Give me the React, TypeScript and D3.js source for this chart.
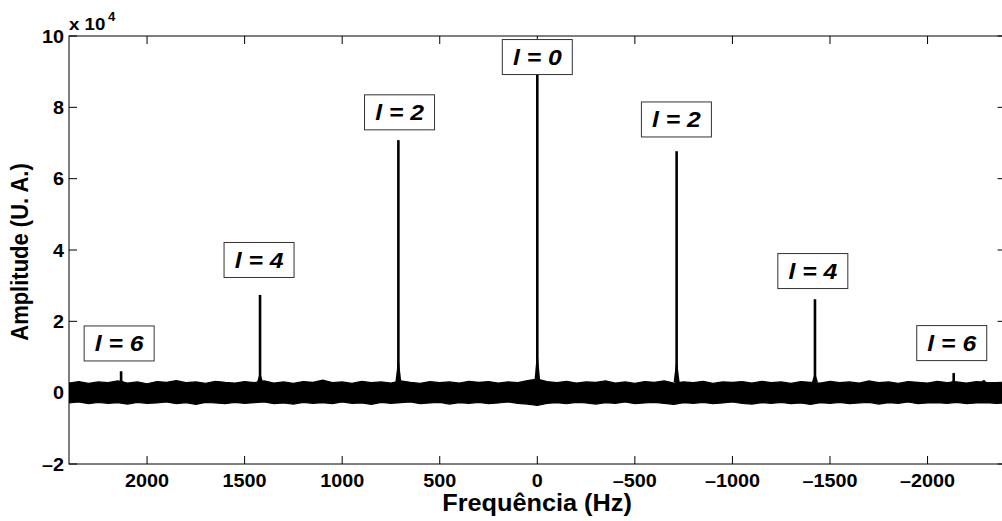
import React from "react";
import * as d3 from "d3";

// ---- data (amplitudes in units of 1e4) ----
const xTicks = [2000, 1500, 1000, 500, 0, -500, -1000, -1500, -2000];
const yTicks = [-2, 0, 2, 4, 6, 8, 10];

const peakFreq = [2133, 1421, 712, 0, -714, -1423, -2134, -2288];
const peakAmp = [0.6, 2.74, 7.08, 9.1, 6.77, 2.62, 0.55, 0.35];

const labelText = ["l = 6", "l = 4", "l = 2", "l = 0", "l = 2", "l = 4", "l = 6"];
const labelFreq = [2143, 1426, 706, 0, -713, -1412, -2124];
const labelAmp = [1.38, 3.72, 7.86, 9.41, 7.66, 3.41, 1.39];

// noise band envelope, sampled every 50 Hz from 2400 Hz to -2400 Hz (97 samples)
const noiseFreq = d3.range(2400, -2401, -50);
const noiseUpper = [
  0.27, 0.31, 0.26, 0.30, 0.28, 0.33, 0.27, 0.30, 0.25, 0.31,
  0.29, 0.34, 0.28, 0.30, 0.26, 0.32, 0.29, 0.27, 0.31, 0.28,
  0.33, 0.27, 0.30, 0.26, 0.31, 0.29, 0.35, 0.28, 0.30, 0.26,
  0.32, 0.28, 0.30, 0.27, 0.33, 0.29, 0.26, 0.31, 0.28, 0.30,
  0.27, 0.32, 0.29, 0.31, 0.27, 0.30, 0.28, 0.34, 0.38, 0.31,
  0.28, 0.32, 0.27, 0.30, 0.29, 0.33, 0.27, 0.30, 0.26, 0.31,
  0.29, 0.33, 0.27, 0.30, 0.28, 0.32, 0.26, 0.30, 0.29, 0.31,
  0.27, 0.32, 0.28, 0.30, 0.26, 0.31, 0.29, 0.27, 0.32, 0.28,
  0.30, 0.27, 0.33, 0.28, 0.30, 0.26, 0.31, 0.29, 0.27, 0.32,
  0.28, 0.30, 0.27, 0.31, 0.29, 0.28, 0.30,
];
const noiseLower = [
  -0.29, -0.26, -0.31, -0.27, -0.30, -0.28, -0.32, -0.27, -0.30, -0.29,
  -0.26, -0.31, -0.28, -0.33, -0.27, -0.29, -0.31, -0.27, -0.30, -0.28,
  -0.26, -0.31, -0.29, -0.32, -0.27, -0.30, -0.28, -0.31, -0.26, -0.30,
  -0.29, -0.33, -0.27, -0.30, -0.28, -0.26, -0.31, -0.29, -0.27, -0.32,
  -0.28, -0.30, -0.27, -0.31, -0.29, -0.26, -0.30, -0.32, -0.36, -0.30,
  -0.28, -0.31, -0.27, -0.29, -0.32, -0.28, -0.30, -0.26, -0.31, -0.29,
  -0.27, -0.30, -0.33, -0.28, -0.30, -0.27, -0.31, -0.29, -0.26, -0.30,
  -0.32, -0.28, -0.30, -0.27, -0.31, -0.29, -0.33, -0.28, -0.30, -0.27,
  -0.31, -0.29, -0.27, -0.32, -0.28, -0.30, -0.26, -0.31, -0.29, -0.28,
  -0.30, -0.27, -0.31, -0.29, -0.28, -0.30, -0.29,
];

const W = 1002;
const H = 521;
const FONT = "'Liberation Sans', Arial, Helvetica, sans-serif";
const SX = 1.1; // horizontal stretch of glyphs in the reference

function T(props: any) {
  const { x, y, children, rotate, ...rest } = props;
  const tr = `translate(${x},${y}) scale(${SX},1)` + (rotate ? ` rotate(${rotate})` : "");
  return (
    <text transform={tr} fontFamily={FONT} fontWeight="bold" fill="#000" {...rest}>
      {children}
    </text>
  );
}

export default function App() {
  const x = d3.scaleLinear().domain([2400, -2400]).range([69, 1005.6]);
  const y = d3.scaleLinear().domain([-2, 10]).range([464, 36]);
  const [x0, x1] = x.range();
  const [yb, yt] = y.range();

  const idx = noiseFreq.map((_, i) => i);
  const band = d3
    .area<number>()
    .x((i) => x(noiseFreq[i]))
    .y0((i) => y(noiseLower[i]))
    .y1((i) => y(noiseUpper[i]));
  const upperLine = d3.line<number>().x((i) => x(noiseFreq[i])).y((i) => y(noiseUpper[i]));
  const lowerLine = d3.line<number>().x((i) => x(noiseFreq[i])).y((i) => y(noiseLower[i]));

  const tick = 8;
  const fmt = (t: number) => (t < 0 ? "\u2013" + Math.abs(t) : String(t));
  return (
    <svg
      width={W}
      height={H}
      style={{ position: "absolute", left: 0, top: 0, background: "#fff" }}
    >
      <rect x={0} y={0} width={W} height={H} fill="#fff" />
      {/* noise band */}
      <path d={band(idx) || ""} fill="#000" />
      <path d={upperLine(idx) || ""} fill="none" stroke="#000" strokeWidth={1.2} />
      <path d={lowerLine(idx) || ""} fill="none" stroke="#000" strokeWidth={1.2} />
      {/* peaks */}
      {peakFreq.map((f, i) => (
        <g key={"p" + i}>
          <line x1={x(f)} x2={x(f)} y1={y(0)} y2={y(peakAmp[i])} stroke="#000" strokeWidth={2.6} />
          <path
            d={`M${x(f) - 3},${y(0.3)} L${x(f)},${y(peakAmp[i] * 0.1 + 0.3)} L${x(f) + 3},${y(0.3)} Z`}
            fill="#000"
          />
        </g>
      ))}
      {/* axes box */}
      <rect x={x0} y={yt} width={x1 - x0} height={yb - yt} fill="none" stroke="#000" strokeWidth={1} />
      {xTicks.map((t) => (
        <g key={"xt" + t}>
          <line x1={x(t)} x2={x(t)} y1={yb} y2={yb - tick} stroke="#000" />
          <line x1={x(t)} x2={x(t)} y1={yt} y2={yt + tick} stroke="#000" />
          <T x={x(t)} y={487} textAnchor="middle" fontSize={18}>
            {fmt(t)}
          </T>
        </g>
      ))}
      {yTicks.map((t) => (
        <g key={"yt" + t}>
          <line x1={x0} x2={x0 + tick} y1={y(t)} y2={y(t)} stroke="#000" />
          <line x1={x1} x2={x1 - tick} y1={y(t)} y2={y(t)} stroke="#000" />
          <T x={64} y={y(t) + 6.5} textAnchor="end" fontSize={18}>
            {fmt(t)}
          </T>
        </g>
      ))}
      {/* exponent */}
      <T x={69} y={30} fontSize={17}>
        x 10
      </T>
      <T x={108} y={21} fontSize={12}>
        4
      </T>
      {/* axis labels */}
      <T x={537} y={511} textAnchor="middle" fontSize={23}>
        Frequência (Hz)
      </T>
      <T x={28} y={252} textAnchor="middle" fontSize={22} rotate={-90}>
        Amplitude (U. A.)
      </T>
      {/* l labels */}
      {labelText.map((s, i) => {
        const cx = x(labelFreq[i]);
        const cy = y(labelAmp[i]);
        return (
          <g key={"l" + i}>
            <rect x={cx - 35} y={cy - 17.5} width={70} height={35} fill="#fff" stroke="#333" strokeWidth={1} />
            <T x={cx} y={cy + 8} textAnchor="middle" fontSize={22.5} fontStyle="italic">
              {s}
            </T>
          </g>
        );
      })}
    </svg>
  );
}
